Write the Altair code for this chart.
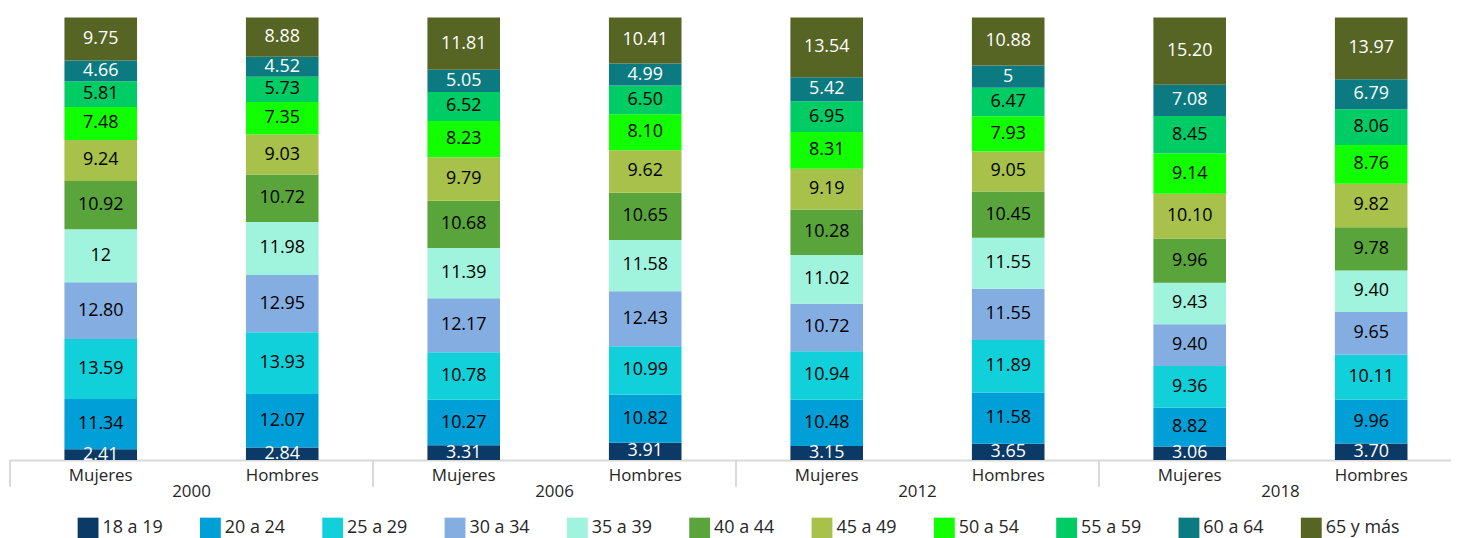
import altair as alt
import pandas as pd

years = ["2000", "2006", "2012", "2018"]
sexes = ["Mujeres", "Hombres"]
ages = ["18 a 19", "20 a 24", "25 a 29", "30 a 34", "35 a 39", "40 a 44",
        "45 a 49", "50 a 54", "55 a 59", "60 a 64", "65 y más"]
colors = ["#0b3a66", "#009fd8", "#11d0da", "#84aee2", "#a0f3dc", "#59a53b",
          "#a8c14b", "#11ff00", "#00cc66", "#0b7b81", "#566424"]
dark_ages = ["18 a 19", "60 a 64", "65 y más"]

# values from bottom (18 a 19) to top (65 y más), as printed on the bars
m2000 = ["2.41", "11.34", "13.59", "12.80", "12", "10.92", "9.24", "7.48", "5.81", "4.66", "9.75"]
h2000 = ["2.84", "12.07", "13.93", "12.95", "11.98", "10.72", "9.03", "7.35", "5.73", "4.52", "8.88"]
m2006 = ["3.31", "10.27", "10.78", "12.17", "11.39", "10.68", "9.79", "8.23", "6.52", "5.05", "11.81"]
h2006 = ["3.91", "10.82", "10.99", "12.43", "11.58", "10.65", "9.62", "8.10", "6.50", "4.99", "10.41"]
m2012 = ["3.15", "10.48", "10.94", "10.72", "11.02", "10.28", "9.19", "8.31", "6.95", "5.42", "13.54"]
h2012 = ["3.65", "11.58", "11.89", "11.55", "11.55", "10.45", "9.05", "7.93", "6.47", "5", "10.88"]
m2018 = ["3.06", "8.82", "9.36", "9.40", "9.43", "9.96", "10.10", "9.14", "8.45", "7.08", "15.20"]
h2018 = ["3.70", "9.96", "10.11", "9.65", "9.40", "9.78", "9.82", "8.76", "8.06", "6.79", "13.97"]

series = {
    ("2000", "Mujeres"): m2000, ("2000", "Hombres"): h2000,
    ("2006", "Mujeres"): m2006, ("2006", "Hombres"): h2006,
    ("2012", "Mujeres"): m2012, ("2012", "Hombres"): h2012,
    ("2018", "Mujeres"): m2018, ("2018", "Hombres"): h2018,
}

rows = []
for y in years:
    for s in sexes:
        for i, a in enumerate(ages):
            lbl = series[(y, s)][i]
            rows.append(dict(key=f"{y}|{s}", year=y, sex=s, age=a, idx=i,
                             value=float(lbl), label=lbl))
df = pd.DataFrame(rows)
keys = [f"{y}|{s}" for y in years for s in sexes]
year_df = pd.DataFrame({"year": years})

FONT = "Open Sans"
GRID = "#d9d9d9"

key_scale = alt.Scale(domain=keys, range=[0, 1460], paddingInner=0.6, paddingOuter=0.3)
year_scale = alt.Scale(domain=years, range=[0, 1460], paddingInner=0, paddingOuter=0)
y_scale = alt.Scale(domain=[0, 100], nice=False, zero=True)

base = alt.Chart(df).transform_stack(
    stack="value", groupby=["key"], sort=[alt.SortField("idx", order="ascending")],
    as_=["v0", "v1"]
).transform_calculate(mid="(datum.v0 + datum.v1) / 2")

bars = base.mark_bar().encode(
    x=alt.X("key:N", sort=keys, scale=key_scale,
            axis=alt.Axis(title=None, labelExpr="split(datum.label, '|')[1]",
                          ticks=False, domainColor=GRID, domainWidth=2,
                          labelFontSize=17, labelFont=FONT, labelColor="#262626",
                          labelPadding=8, labelAngle=0)),
    y=alt.Y("v0:Q", scale=y_scale,
            axis=alt.Axis(title=None, labels=False, ticks=False, domain=False,
                          values=list(range(0, 101, 10)), gridColor=GRID, gridWidth=1.5)),
    y2="v1:Q",
    color=alt.Color("age:N", scale=alt.Scale(domain=ages, range=colors),
                    legend=alt.Legend(title=None, orient="none", legendX=68, legendY=503,
                                      direction="horizontal", columns=11,
                                      symbolType="square", symbolSize=440,
                                      symbolStrokeWidth=0, symbolOpacity=1,
                                      labelFontSize=18, labelFont=FONT,
                                      labelColor="#262626", labelOffset=4,
                                      columnPadding=37)),
    order=alt.Order("idx:Q", sort="ascending"),
)

labels = base.mark_text(fontSize=18, font=FONT, baseline="middle").encode(
    x=alt.X("key:N", sort=keys, scale=key_scale, axis=None),
    y=alt.Y("mid:Q", scale=y_scale, axis=None),
    text="label:N",
    color=alt.condition(alt.FieldOneOfPredicate(field="age", oneOf=dark_ages),
                        alt.value("white"), alt.value("black")),
)

seps = alt.Chart(year_df).mark_rule(color=GRID, strokeWidth=2).encode(
    x=alt.X("year:N", sort=years, scale=year_scale, bandPosition=0, axis=None),
    y=alt.value(445),
    y2=alt.value(472),
)

year_labels = alt.Chart(year_df).mark_text(fontSize=17, font=FONT, color="#262626",
                                           baseline="middle").encode(
    x=alt.X("year:N", sort=years, scale=year_scale, axis=None),
    y=alt.value(477),
    text="year:N",
)

chart = alt.layer(bars, labels, seps, year_labels).resolve_scale(
    x="independent"
).properties(
    width=1449, height=445,
    autosize=alt.AutoSizeParams(type="none"),
    padding={"left": 2, "top": 8, "right": 0, "bottom": 77},
).configure_view(stroke=None)

chart.save("out.html", embed_options={"renderer": "svg", "actions": False})
